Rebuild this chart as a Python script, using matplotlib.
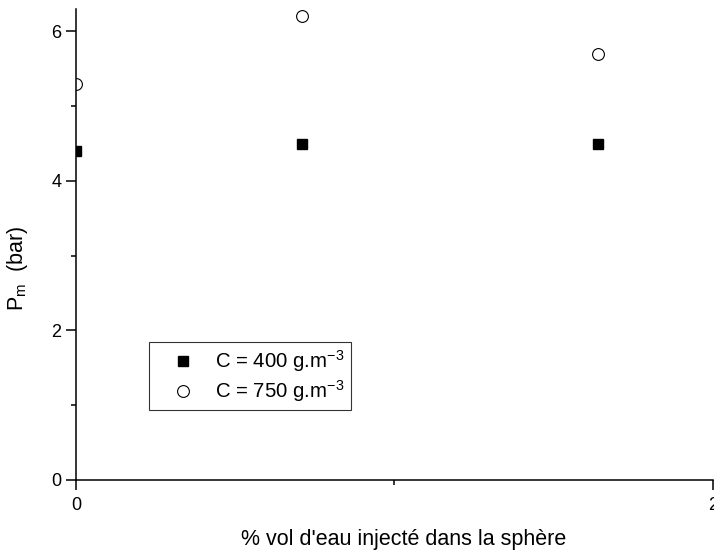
import numpy as np
import matplotlib
matplotlib.use("Agg")
import matplotlib.pyplot as plt
from matplotlib.ticker import MultipleLocator

plt.rcParams['font.family'] = ['Liberation Sans', 'DejaVu Sans']
plt.rcParams['mathtext.fontset'] = 'custom'
plt.rcParams['mathtext.rm'] = 'Liberation Sans'
plt.rcParams['mathtext.it'] = 'Liberation Sans:italic'

# donnees
eau_400 = [0.0, 0.71, 1.64]
pm_400 = [4.4, 4.5, 4.5]
eau_750 = [0.0, 0.71, 1.64]
pm_750 = [5.3, 6.2, 5.7]

lab_400 = r'C = 400 g.m$\mathregular{^{-3}}$'
lab_750 = r'C = 750 g.m$\mathregular{^{-3}}$'

fig = plt.figure(figsize=(7.14, 5.54), dpi=100)
ax = fig.add_axes([0.1064, 0.1336, 0.8922, 0.8502])

ax.plot(eau_400, pm_400, ls='none', marker='s', ms=7.2, color='black',
        label=lab_400)
ax.plot(eau_750, pm_750, ls='none', marker='o', ms=8.5, mfc='white',
        mec='black', mew=0.8, label=lab_750)

ax.set_xlim(0, 2)
ax.set_ylim(0, 6.3)
ax.xaxis.set_major_locator(MultipleLocator(2))
ax.xaxis.set_minor_locator(MultipleLocator(1))
ax.yaxis.set_major_locator(MultipleLocator(2))
ax.yaxis.set_minor_locator(MultipleLocator(1))

for s in ['top', 'right']:
    ax.spines[s].set_visible(False)
for s in ['left', 'bottom']:
    ax.spines[s].set_linewidth(1.1)

ax.tick_params(which='major', direction='out', length=7, width=1.1,
               labelsize=13)
ax.tick_params(which='minor', direction='out', length=3.6, width=1.1)
ax.tick_params(axis='x', which='major', pad=5)
ax.tick_params(axis='y', which='major', pad=3.5)

ax.set_xlabel("% vol d'eau injecté dans la sphère", fontsize=15.5)
ax.xaxis.set_label_coords(0.515, -0.104)
ax.set_ylabel(r'P$_\mathregular{m}$  (bar)', fontsize=15.5)
ax.yaxis.set_label_coords(-0.072, 0.45)

leg = ax.legend(loc='upper left', bbox_to_anchor=(0.1146, 0.293),
                fontsize=14.7, frameon=True, fancybox=False, borderpad=0.3,
                handlelength=2.7, handletextpad=0.25, labelspacing=0.2,
                borderaxespad=0)
leg.get_frame().set_edgecolor('black')
leg.get_frame().set_linewidth(0.8)

fig.savefig('out.png', dpi=100)
